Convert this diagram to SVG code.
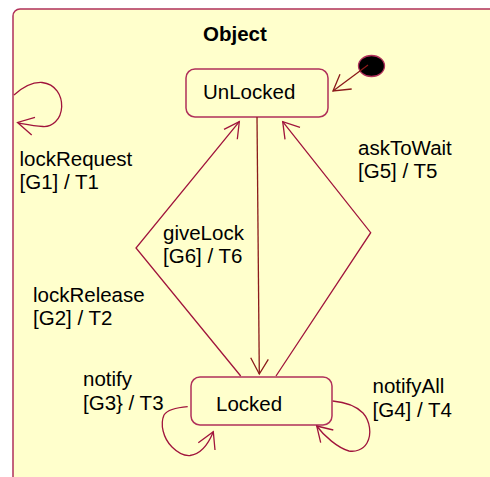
<svg xmlns="http://www.w3.org/2000/svg" width="490" height="477" viewBox="0 0 490 477">
<style>
.frame{fill:#ffffcc;stroke:#b0305a;stroke-width:1.5}
.state{fill:#ffffcc;stroke:#b0305a;stroke-width:1.5}
.conn{fill:none;stroke:#a0143c;stroke-width:1.3}
.dark{fill:none;stroke:#8b1a1a;stroke-width:1.3}
.t{font-family:"Liberation Sans",Arial,sans-serif;font-size:20.5px;fill:#000}
.b{font-family:"Liberation Sans",Arial,sans-serif;font-size:20.5px;font-weight:bold;fill:#000}
</style>
<rect x="0" y="0" width="490" height="477" fill="#ffffff"/>
<g id="frame">
<rect class="frame" x="13" y="9" width="490" height="480" rx="7"/>
<text class="b" x="203" y="41">Object</text>
</g>
<g id="initial">
<ellipse cx="371.5" cy="66" rx="13" ry="10.5" fill="#000" stroke="#b0305a" stroke-width="1.3"/>
</g>
<g id="unlocked">
<rect class="state" x="186" y="69" width="142" height="48" rx="9"/>
<text class="t" x="203" y="99">UnLocked</text>
</g>
<g id="locked">
<rect class="state" x="191" y="377" width="141" height="48" rx="9"/>
<text class="t" x="216" y="411">Locked</text>
</g>
<g id="connectors">
<path class="dark" d="M368,65 L333,91"/>
<polyline class="dark" points="351.7,89 333,91 340,74.3"/>
<path class="dark" d="M257,117 L259.3,374"/>
<polyline class="dark" points="250.7,357.7 259.3,374 268.3,359.3"/>
<path class="conn" d="M240.7,376 L136,248 L239.3,121.7"/>
<polyline class="conn" points="224,129.3 239.3,121.7 237.3,139.3"/>
<path class="conn" d="M276,376 L370.7,232.7 L282.7,121.7"/>
<polyline class="conn" points="300,127.3 282.7,121.7 285,139.3"/>
<path class="conn" d="M14,95 C24,86 34,82 42,82.5 C56,84 62,96 61.7,106.7 C61,120 52,127 43,126.5 C33,126 24,124 18.3,123"/>
<polyline class="conn" points="35,117.3 17.5,122.5 31.7,135"/>
<path class="conn" d="M187.7,406.7 C178,407.5 168,409 164,415 C160,424 163,438 172,447 C178,453 184,456 190,455.5 C200,454 208,445 213.3,431.7"/>
<polyline class="conn" points="198.3,442.7 213.3,431.7 215,450"/>
<path class="conn" d="M332.7,401 C344,402 356,406 363,413 C370,421 372,434 367,443 C363,450 355,452 349,451 C338,448 324,436 316.7,426"/>
<polyline class="conn" points="333.3,430 316.7,426 320.7,442.7"/>
</g>
<g id="labels">
<text class="t" x="19.5" y="166">lockRequest</text>
<text class="t" x="19.5" y="189">[G1] / T1</text>
<text class="t" x="358" y="155">askToWait</text>
<text class="t" x="358" y="178">[G5] / T5</text>
<text class="t" x="163" y="240">giveLock</text>
<text class="t" x="163" y="263">[G6] / T6</text>
<text class="t" x="33" y="302">lockRelease</text>
<text class="t" x="33" y="325">[G2] / T2</text>
<text class="t" x="83" y="386">notify</text>
<text class="t" x="83" y="410">[G3} / T3</text>
<text class="t" x="372.5" y="393">notifyAll</text>
<text class="t" x="372.5" y="417">[G4] / T4</text>
</g>
</svg>
